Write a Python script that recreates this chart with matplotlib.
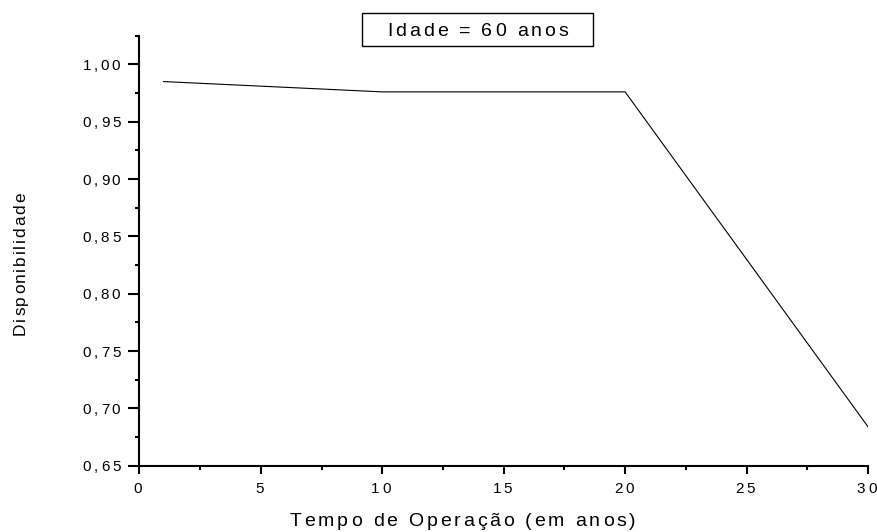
import matplotlib
matplotlib.use("Agg")
import matplotlib.pyplot as plt
from matplotlib.font_manager import FontProperties, findfont, get_font
from matplotlib.patches import Rectangle
from matplotlib.ticker import MultipleLocator
from matplotlib.transforms import offset_copy

FONT = "Liberation Sans"

# dados
tempo = [1, 10, 20, 30]
disponibilidade = [0.985, 0.976, 0.976, 0.684]

x_ticks = [0, 5, 10, 15, 20, 25, 30]
x_tick_labels = ["0", "5", "10", "15", "20", "25", "30"]
y_ticks = [0.65, 0.70, 0.75, 0.80, 0.85, 0.90, 0.95, 1.00]
y_tick_labels = ["0,65", "0,70", "0,75", "0,80", "0,85", "0,90", "0,95", "1,00"]

titulo = "Idade = 60 anos"
rotulo_x = "Tempo de Operação (em anos)"
rotulo_y = "Disponibilidade"

fig = plt.figure(figsize=(8.78, 5.32), dpi=100)
ax = fig.add_axes([0.1587, 0.1246, 0.8299, 0.8083])

ax.plot(tempo, disponibilidade, color="black", linewidth=0.8)
ax.set_xlim(0, 30)
ax.set_ylim(0.65, 1.025)
ax.set_xticks(x_ticks)
ax.set_yticks(y_ticks)
ax.xaxis.set_minor_locator(MultipleLocator(2.5))
ax.yaxis.set_minor_locator(MultipleLocator(0.025))
ax.spines["top"].set_visible(False)
ax.spines["right"].set_visible(False)
for s in ["left", "bottom"]:
    ax.spines[s].set_linewidth(1.5)
ax.tick_params(labelbottom=False, labelleft=False, direction="out", width=1.5)
ax.tick_params(axis="y", which="major", length=8)
ax.tick_params(axis="y", which="minor", length=3, width=1.5)
ax.tick_params(axis="x", which="major", length=6)
ax.tick_params(axis="x", which="minor", length=3, width=1.5)


def avanco(ch, size):
    font = get_font(findfont(FontProperties(family=FONT)))
    font.set_size(size, 100)
    return font.load_char(ord(ch)).linearHoriAdvance / 65536


# texto com espacamento entre letras (como no original); medidas em px a 100 dpi
def texto_espacado(s, x, y, trans, size, gap, ha="center", rot=0, dx=0, dy=0):
    advs = [avanco(c, size) for c in s]
    total = sum(advs) + gap * (len(s) - 1)
    pos = {"left": 0, "center": -total / 2, "right": -total}[ha]
    for c, a in zip(s, advs):
        if c != " ":
            ox, oy = (dx + pos, dy) if rot == 0 else (dx, dy + pos)
            fig.text(x, y, c, transform=offset_copy(trans, fig=fig, x=ox * 0.72, y=oy * 0.72, units="points"),
                     fontsize=size, family=FONT, ha="left", va="baseline",
                     rotation=rot, rotation_mode="anchor")
        pos += a + gap


for v, lab in zip(x_ticks, x_tick_labels):
    texto_espacado(lab, v, 0, ax.get_xaxis_transform(), 11, 2.6, dx=-1.3, dy=-27.6)
for v, lab in zip(y_ticks, y_tick_labels):
    texto_espacado(lab, 0, v, ax.get_yaxis_transform(), 11, 2.6, ha="right", dx=-19, dy=-5.7)

texto_espacado(rotulo_x, 462.5 / 878, (532 - 525.7) / 532, fig.transFigure, 14, 2.85)
texto_espacado(titulo, 477.5 / 878, (532 - 35.7) / 532, fig.transFigure, 14, 2.86)
texto_espacado(rotulo_y, 25 / 878, (532 - 335) / 532, fig.transFigure, 12.4, 1.8, ha="left", rot=90)

fig.add_artist(Rectangle((362.3 / 878, (532 - 46) / 532), (592.7 - 362.3) / 878, (46 - 13.3) / 532,
                         transform=fig.transFigure, fill=False, edgecolor="black", linewidth=1))

fig.savefig("out.png", dpi=100)
